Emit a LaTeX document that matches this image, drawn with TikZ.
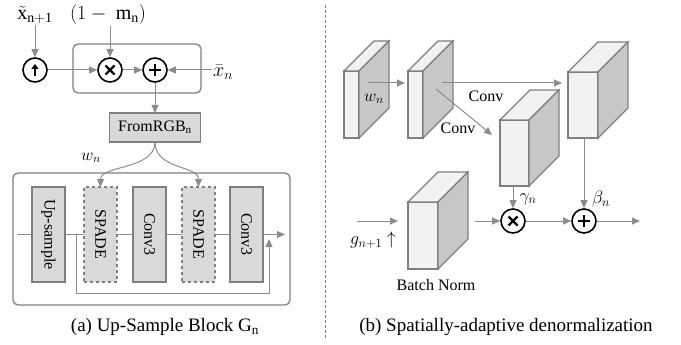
\RequirePackage{fix-cm}
\documentclass[tikz,border=0pt]{standalone}
\usepackage{fontspec}
\setmainfont{Liberation Serif}
\usepackage{graphicx}
\usetikzlibrary{arrows.meta,calc}
\definecolor{lgray}{HTML}{8C8C8C}
\definecolor{dgray}{HTML}{7F7F7F}
\definecolor{bfill}{HTML}{D9D9D9}
\definecolor{ffill}{HTML}{F2F2F2}
\definecolor{sfill}{HTML}{C8C8C8}
\tikzstyle{lbl}=[font=\fontsize{16}{19}\selectfont,inner sep=1pt]
\tikzstyle{mth}=[font=\fontsize{20}{24}\selectfont,inner sep=1pt]
\tikzstyle{captxt}=[font=\fontsize{19}{22}\selectfont,inner sep=1pt]
\tikzstyle{wire}=[draw=lgray,line width=1pt]
\tikzstyle{arr}=[wire,-{Triangle[length=8pt,width=7pt]}]
\tikzstyle{frame}=[draw=dgray,line width=1.3pt,rounded corners=5pt,inner sep=0pt]
\tikzstyle{blk}=[draw=dgray,fill=bfill,line width=1.2pt,minimum width=33pt,minimum height=95pt,inner sep=0pt,outer sep=0pt,font=\fontsize{16}{19}\selectfont]
\tikzstyle{sblk}=[blk,dashed]
\tikzstyle{face}=[draw=dgray,fill=ffill,line width=1.2pt,inner sep=0pt,outer sep=0pt]
\tikzstyle{op}=[circle,draw=black,fill=white,line width=1.6pt,minimum size=24pt,inner sep=0pt]
\tikzstyle{mulop}=[op,path picture={\draw[line width=2.3pt] ($(path picture bounding box.center)+(-4.5,-4.5)$) -- ++(9,9) ($(path picture bounding box.center)+(-4.5,4.5)$) -- ++(9,-9);}]
\tikzstyle{addop}=[op,path picture={\draw[line width=2.3pt] ($(path picture bounding box.center)+(-6,0)$) -- ++(12,0) ($(path picture bounding box.center)+(0,-6)$) -- ++(0,12);}]
\tikzstyle{upop}=[op,path picture={\draw[line width=2pt,-{Triangle[length=5pt,width=7pt]}] ($(path picture bounding box.center)+(0,6)$) -- ++(0,-12);}]
% front face node plus top and side faces
\newcommand{\cuboid}[5]{%
\node[face,minimum width=#4pt,minimum height=#5pt] (#1) at (#2,#3) {};
\draw[face] (#1.north west) -- ++(30,-30) -- ++(#4,0) -- (#1.north east) -- cycle;
\draw[face,fill=sfill] (#1.north east) -- ++(30,-30) -- ++(0,#5) -- (#1.south east) -- cycle;}

\begin{document}
\begin{tikzpicture}[x=1pt,y=-1pt]
\useasboundingbox (0,0) rectangle (681,345);
% (a) mixing step
\node[frame,minimum width=128pt,minimum height=49pt] (mixbox) at (137,68.5) {};
\node[upop] (up) at (35,70) {};
\node[mulop] (mul) at (110,70) {};
\node[addop] (add) at (155,70) {};
\node[mth] (xt) at (35,15) {$\tilde{\mathrm{x}}_{\mathrm{n+1}}$};
\node[mth] (mn) at (108,15) {$(1-\ \mathrm{m}_{\mathrm{n}})$};
\node[mth,anchor=west] (xb) at (212,72) {$\bar{x}_n$};
\node[blk,minimum width=91pt,minimum height=29pt] (rgb) at (155,127.5) {FromRGB\textsubscript{n}};
\draw[arr] (xt) -- (up);
\draw[arr] (mul|-mn.south) -- (mul.north);
\draw[arr] (up) -- (mul);
\draw[arr] (mul) -- (add);
\draw[arr] (xb.west|-add) -- (add);
\draw[arr] (add) -- (rgb);
% (a) up-sample block
\node[frame,minimum width=277pt,minimum height=132pt] (ublock) at (151.5,239) {};
\coordinate (gin) at (17,234.5);
\coordinate (gout) at (285,234.5);
\coordinate (skp) at (76,234.5);
\coordinate (skq) at (269,239);
\draw[wire] (gin) -- (skp);
\draw[arr] (skp) -- ++(0,58.5) -| (skq);
\draw[arr] (gin) -- (gout);
\node[blk] (ups) at (48.5,234.5) {\rotatebox{-90}{Up-sample}};
\node[sblk] (sp1) at (100.5,234.5) {\rotatebox{-90}{SPADE}};
\node[blk] (cv1) at (149.5,234.5) {\rotatebox{-90}{Conv3}};
\node[sblk] (sp2) at (198.5,234.5) {\rotatebox{-90}{SPADE}};
\node[blk] (cv2) at (246.5,234.5) {\rotatebox{-90}{Conv3}};
\draw[arr] (rgb.south) .. controls +(0,28) and +(0,-22) .. (sp1.north);
\draw[arr] (rgb.south) .. controls +(0,28) and +(0,-22) .. (sp2.north);
\node[mth,font=\fontsize{17}{20}\selectfont] (wa) at (91,158) {$w_n$};
\node[captxt] (capa) at (165,327) {(a) Up-Sample Block G\textsubscript{n}};
% divider
\draw[dgray,line width=0.8pt,dash pattern=on 3pt off 2pt] (325,5) -- (325,340);
% (b) SPADE
\cuboid{s1}{351.5}{104.5}{15}{67}
\cuboid{s2}{415.5}{104.5}{15}{67}
\cuboid{sg}{514.5}{153}{29}{66}
\cuboid{sb}{583}{105}{30}{66}
\cuboid{bn}{423}{235.5}{30}{67}
\node[mth,font=\fontsize{17}{20}\selectfont] (wb) at (374,99) {$w_n$};
\draw[arr] ($(s1.north east)+(9,12)$) -- ($(s2.north west)+(-3,12)$);
\draw[arr] ($(s2.north east)+(19,12)$) -- ($(sb.north west)+(-6,11)$);
\draw[arr] ($(s2.north east)+(13,18)$) -- ($(sg.north west)+(-8,15)$);
\node[lbl] (cva) at (486,96) {Conv};
\node[lbl] (cvb) at (458,128) {Conv};
\node[mulop] (mul2) at (513,221) {};
\node[addop] (add2) at (584,221) {};
\coordinate (gin2) at (357,221);
\coordinate (gout2) at (640,221);
\draw[arr] (gin2) -- ($(bn.north west)+(-10,19)$);
\draw[arr] ($(bn.north east)+(37,19)$) -- (mul2);
\draw[arr] (mul2) -- (add2);
\draw[arr] (add2) -- (gout2);
\draw[arr] (mul2|-sg.south) -- (mul2.north);
\draw[arr] (add2|-sb.south) -- (add2.north);
\node[mth,font=\fontsize{18}{21}\selectfont] (gam) at (528,199) {$\gamma_n$};
\node[mth,font=\fontsize{18}{21}\selectfont] (bet) at (601,199) {$\beta_n$};
\node[mth,font=\fontsize{18}{21}\selectfont] (gl) at (373,240) {$g_{n+1}\ {\uparrow}$};
\node[lbl] (bnl) at (436,285) {Batch Norm};
\node[captxt] (capb) at (506,327) {(b) Spatially-adaptive denormalization};
\end{tikzpicture}
\end{document}
